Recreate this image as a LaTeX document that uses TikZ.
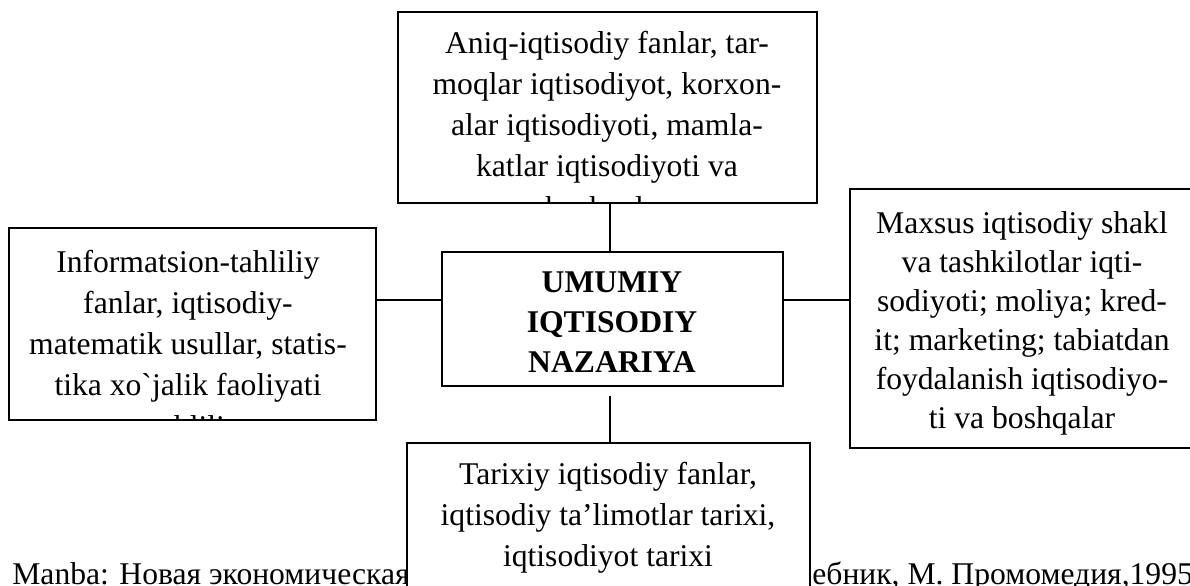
\documentclass[tikz,border=0pt]{standalone}
\usepackage{fontspec}
\setmainfont{Liberation Serif}
\newcommand{\pix}{0.02cm}

\begin{document}
\begin{tikzpicture}[x=0.02cm, y=-0.02cm,
    box/.style={draw, fill=white, line width=1.1pt, inner sep=0pt},
    txt/.style={align=center, anchor=north, inner sep=0pt, font=\fontsize{18}{23.4}\selectfont},
    link/.style={line width=0.8pt}]
      \useasboundingbox (0,0) rectangle (1190,585);
      % Source line (partly under the bottom box)
      \node[anchor=base west, inner sep=0pt, font=\fontsize{18}{20}\selectfont] (src1) at (12,584) {Manba: Новая экономическая};
      \node[anchor=base west, inner sep=0pt, font=\fontsize{18}{20}\selectfont] (src2) at (812,584) {ебник, М. Промомедия,1995};

      % Boxes
      \node[box, minimum width=419*\pix, minimum height=191*\pix] (top) at (607.5,107.5) {};
      \node[box, minimum width=341*\pix, minimum height=134*\pix] (mid) at (612.5,319) {};
      \node[box, minimum width=367*\pix, minimum height=192*\pix] (left) at (192.5,324) {};
      \node[box, minimum width=344*\pix, minimum height=259*\pix] (right) at (1022,318.5) {};
      \node[box, minimum width=403*\pix, minimum height=160*\pix] (bot) at (608.5,523) {};

      % Texts (cut off at the box edge)
      \begin{scope}
        \clip (top.south west) rectangle (top.north east);
        \node[txt] (toptxt) at (607,31) {Aniq-iqtisodiy fanlar, tar-\\moqlar iqtisodiyot, korxon-\\alar iqtisodiyoti, mamla-\\katlar iqtisodiyoti va\\boshqalar};
      \end{scope}
      \begin{scope}
        \clip (left.south west) rectangle (left.north east);
        \node[txt] (lefttxt) at (188,250) {Informatsion-tahliliy\\fanlar, iqtisodiy-\\matematik usullar, statis-\\tika xo\textasciigrave jalik faoliyati\\tahlili};
      \end{scope}
      \node[txt, font=\fontsize{18}{23}\selectfont\bfseries] (midtxt) at (612,271) {UMUMIY\\IQTISODIY\\NAZARIYA};
      \node[txt, font=\fontsize{18}{22.2}\selectfont] (righttxt) at (1022,211) {Maxsus iqtisodiy shakl\\va tashkilotlar iqti-\\sodiyoti; moliya; kred-\\it; marketing; tabiatdan\\foydalanish iqtisodiyo-\\ti va boshqalar};
      \node[txt] (bottxt) at (608,462) {Tarixiy iqtisodiy fanlar,\\iqtisodiy ta’limotlar tarixi,\\iqtisodiyot tarixi};

      % Links
      \coordinate (axis) at (610,300);
      \draw[link] (top.south -| axis) -- (mid.north -| axis);
      \draw[link, shorten <=9*\pix] (mid.south -| axis) -- (bot.north -| axis);
      \draw[link] (left.east |- axis) -- (mid.west |- axis);
      \draw[link] (mid.east |- axis) -- (right.west |- axis);
    \end{tikzpicture}
\end{document}
